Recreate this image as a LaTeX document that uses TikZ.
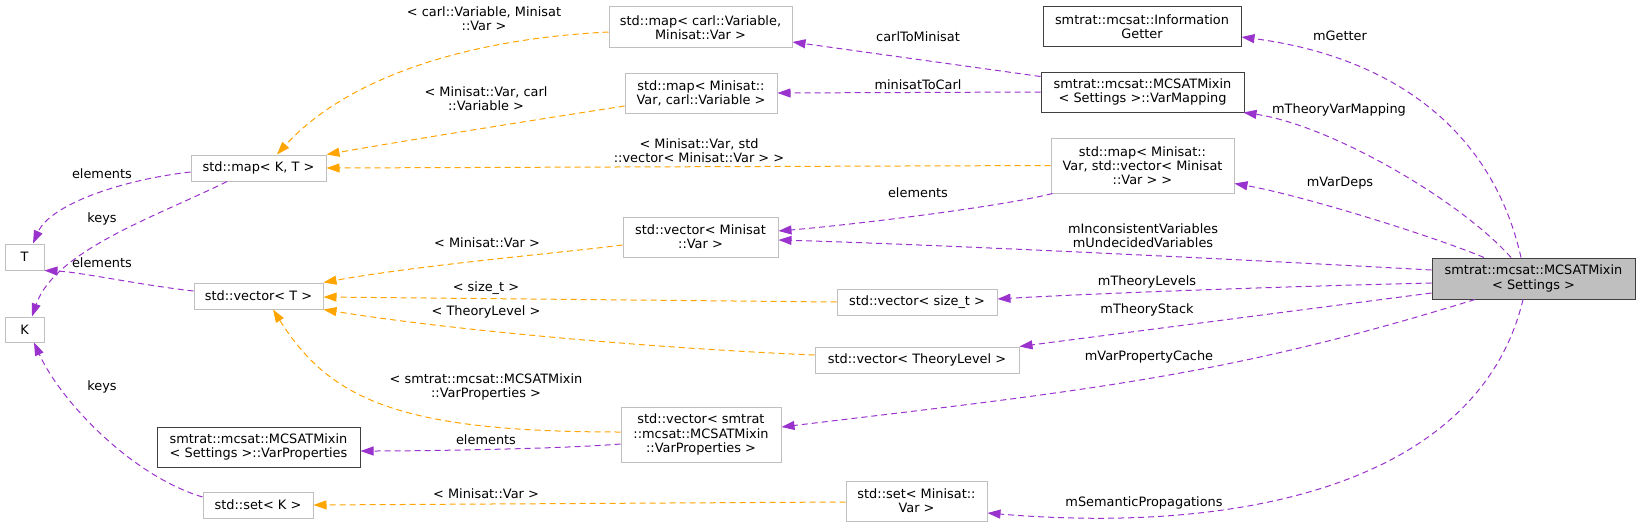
\documentclass[tikz,border=0pt]{standalone}
\usepackage{fontspec}
\setmainfont{DejaVu Sans}
\usetikzlibrary{arrows.meta,calc}
\definecolor{usecol}{HTML}{9A32CD}
\definecolor{tplcol}{HTML}{FFA500}
\definecolor{undoc}{HTML}{BFBFBF}
\definecolor{docb}{HTML}{404040}
\begin{document}
\begin{tikzpicture}[x=1pt,y=-1pt,
  font=\fontsize{12.9}{14.3}\selectfont,
  cls/.style={draw=undoc, line width=1pt, inner sep=0pt, align=center, text=black},
  doccls/.style={cls, draw=docb},
  lbl/.style={inner sep=0pt, align=center},
  uses/.style={draw=usecol, line width=1pt, dash pattern=on 6pt off 4pt, -{Triangle[length=13pt,width=9pt,fill=usecol]}},
  tpl/.style={draw=tplcol, line width=1pt, dash pattern=on 6pt off 4pt, -{Triangle[length=13pt,width=9pt,fill=tplcol]}},
]
\useasboundingbox (0,0) rectangle (1640,527);

% nodes
\node[doccls, fill=undoc, minimum width=203pt, minimum height=41pt] (main) at (1533.5,278.5) {smtrat::mcsat::MCSATMixin\\< Settings >};
\node[doccls, minimum width=198pt, minimum height=40pt] (info) at (1142,27) {smtrat::mcsat::Information\\Getter};
\node[doccls, minimum width=203pt, minimum height=40pt] (varmap) at (1142.5,92) {smtrat::mcsat::MCSATMixin\\< Settings >::VarMapping};
\node[cls, minimum width=183pt, minimum height=55pt] (mapVV) at (1142.5,165.5) {std::map< Minisat::\\Var, std::vector< Minisat\\::Var > >};
\node[cls, minimum width=183pt, minimum height=41pt] (mapCM) at (700.5,27.5) {std::map< carl::Variable,\\Minisat::Var >};
\node[cls, minimum width=152pt, minimum height=40pt] (mapMC) at (701,93) {std::map< Minisat::\\Var, carl::Variable >};
\node[cls, minimum width=155pt, minimum height=40pt] (vecMV) at (700.5,237) {std::vector< Minisat\\::Var >};
\node[cls, minimum width=160pt, minimum height=26pt] (vecST) at (917,302) {std::vector< size\_t >};
\node[cls, minimum width=204pt, minimum height=26pt] (vecTL) at (917,360) {std::vector< TheoryLevel >};
\node[cls, minimum width=160pt, minimum height=55pt] (vecVP) at (701,434.5) {std::vector< smtrat\\::mcsat::MCSATMixin\\::VarProperties >};
\node[cls, minimum width=141pt, minimum height=40pt] (setMV) at (916.5,501) {std::set< Minisat::\\Var >};
\node[cls, minimum width=135pt, minimum height=26pt] (mapKT) at (258.5,168) {std::map< K, T >};
\node[cls, minimum width=129pt, minimum height=26pt] (vecT) at (258.5,296) {std::vector< T >};
\node[doccls, minimum width=203pt, minimum height=40pt] (VP) at (258.5,447) {smtrat::mcsat::MCSATMixin\\< Settings >::VarProperties};
\node[cls, minimum width=110pt, minimum height=26pt] (setK) at (258,505) {std::set< K >};
\node[cls, minimum width=39pt, minimum height=26pt] (T) at (24.5,257) {T};
\node[cls, minimum width=39pt, minimum height=25pt] (K) at (24.5,329.5) {K};

% usage edges
\draw[uses] ($(main.north)+(-12.5,0)$) .. controls (1490,120) and (1380,55) .. ($(info.east)+(0,10)$);
\draw[uses] ($(main.north)+(-22.5,0)$) .. controls (1460,200) and (1330,125) .. ($(varmap.south east)+(-1,0)$);
\draw[uses] ($(main.north)+(-49.5,0)$) .. controls (1430,235) and (1300,195) .. ($(mapVV.south east)+(0,-10)$);
\draw[uses] ($(main.west)+(0,-8.5)$) .. controls (1250,260) and (950,245) .. ($(vecMV.east)+(0,3)$);
\draw[uses] ($(main.west)+(0,4.5)$) .. controls (1300,286) and (1100,293) .. ($(vecST.east)+(0,-3)$);
\draw[uses] ($(main.west)+(0,14.5)$) -- (vecTL.north east);
\draw[uses] ($(main.south)+(-58.5,0)$) .. controls (1225,377) and (1081,391) .. ($(vecVP.east)+(0,-7.5)$);
\draw[uses] ($(main.south)+(-10.5,0)$) .. controls (1480,480) and (1250,535) .. ($(setMV.east)+(0,12)$);
\draw[uses] ($(varmap.north west)+(0,5)$) -- ($(mapCM.east)+(0,14.5)$);
\draw[uses] (varmap.west) -- (mapMC.east);
\draw[uses] ($(mapVV.south west)+(2,0)$) .. controls (1000,207) and (850,225) .. ($(vecMV.east)+(0,-6)$);
\draw[uses] ($(vecVP.west)+(0,9.5)$) .. controls (560,449) and (420,451) .. ($(VP.east)+(0,4)$);
\draw[uses] ($(mapKT.west)+(0,4)$) .. controls (120,180) and (50,205) .. ($(T.north)+(8.5,0)$);
\draw[uses] ($(mapKT.south)+(-31.5,0)$) .. controls (160,215) and (55,250) .. ($(K.north)+(7.5,0)$);
\draw[uses] ($(vecT.west)+(0,-5)$) .. controls (140,285) and (80,272) .. (T.south east);
\draw[uses] ($(setK.west)+(0,-8)$) .. controls (130,475) and (60,400) .. ($(K.south)+(9.5,0)$);

% template edges
\draw[tpl] ($(mapCM.west)+(0,4.5)$) .. controls (450,40) and (340,85) .. ($(mapKT.north)+(18.5,0)$);
\draw[tpl] ($(mapMC.west)+(0,13)$) .. controls (560,116) and (420,138) .. (mapKT.north east);
\draw[tpl] (mapVV.west) -- (mapKT.east);
\draw[tpl] ($(vecMV.west)+(0,8)$) .. controls (560,253) and (420,265) .. (vecT.north east);
\draw[tpl] (vecST.west) -- ($(vecT.east)+(0,1)$);
\draw[tpl] ($(vecTL.west)+(0,-5)$) .. controls (650,348) and (450,330) .. (vecT.south east);
\draw[tpl] ($(vecVP.west)+(0,-2.5)$) .. controls (400,432) and (330,400) .. ($(vecT.south)+(14.5,0)$);
\draw[tpl] ($(setMV.west)+(0,1)$) -- (setK.east);

% labels
\node[lbl] (lGetter) at (1340,36) {mGetter};
\node[lbl] (lTVM) at (1339,110) {mTheoryVarMapping};
\node[lbl] (lVarDeps) at (1340,183) {mVarDeps};
\node[lbl] (lIncons) at (1143,236) {mInconsistentVariables\\mUndecidedVariables};
\node[lbl] (lTLevels) at (1147,282) {mTheoryLevels};
\node[lbl] (lTStack) at (1147,310) {mTheoryStack};
\node[lbl] (lVPC) at (1149,357) {mVarPropertyCache};
\node[lbl] (lSem) at (1144,503) {mSemanticPropagations};
\node[lbl] (lc2m) at (918,37) {carlToMinisat};
\node[lbl] (lm2c) at (918,85) {minisatToCarl};
\node[lbl] (lel1) at (918,193) {elements};
\node[lbl] (lel2) at (486,440) {elements};
\node[lbl] (lel3) at (102,174) {elements};
\node[lbl] (lkeys1) at (102,219) {keys};
\node[lbl] (lel4) at (102,263) {elements};
\node[lbl] (lkeys2) at (102,387) {keys};
\node[lbl] (t1) at (484,19) {< carl::Variable, Minisat\\::Var >};
\node[lbl] (t2) at (486,98.5) {< Minisat::Var, carl\\::Variable >};
\node[lbl] (t3) at (699,150.5) {< Minisat::Var, std\\::vector< Minisat::Var > >};
\node[lbl] (t4) at (487,243) {< Minisat::Var >};
\node[lbl] (t5) at (486,288) {< size\_t >};
\node[lbl] (t6) at (486,312) {< TheoryLevel >};
\node[lbl] (t7) at (486,387) {< smtrat::mcsat::MCSATMixin\\::VarProperties >};
\node[lbl] (t8) at (486,494) {< Minisat::Var >};
\end{tikzpicture}
\end{document}
